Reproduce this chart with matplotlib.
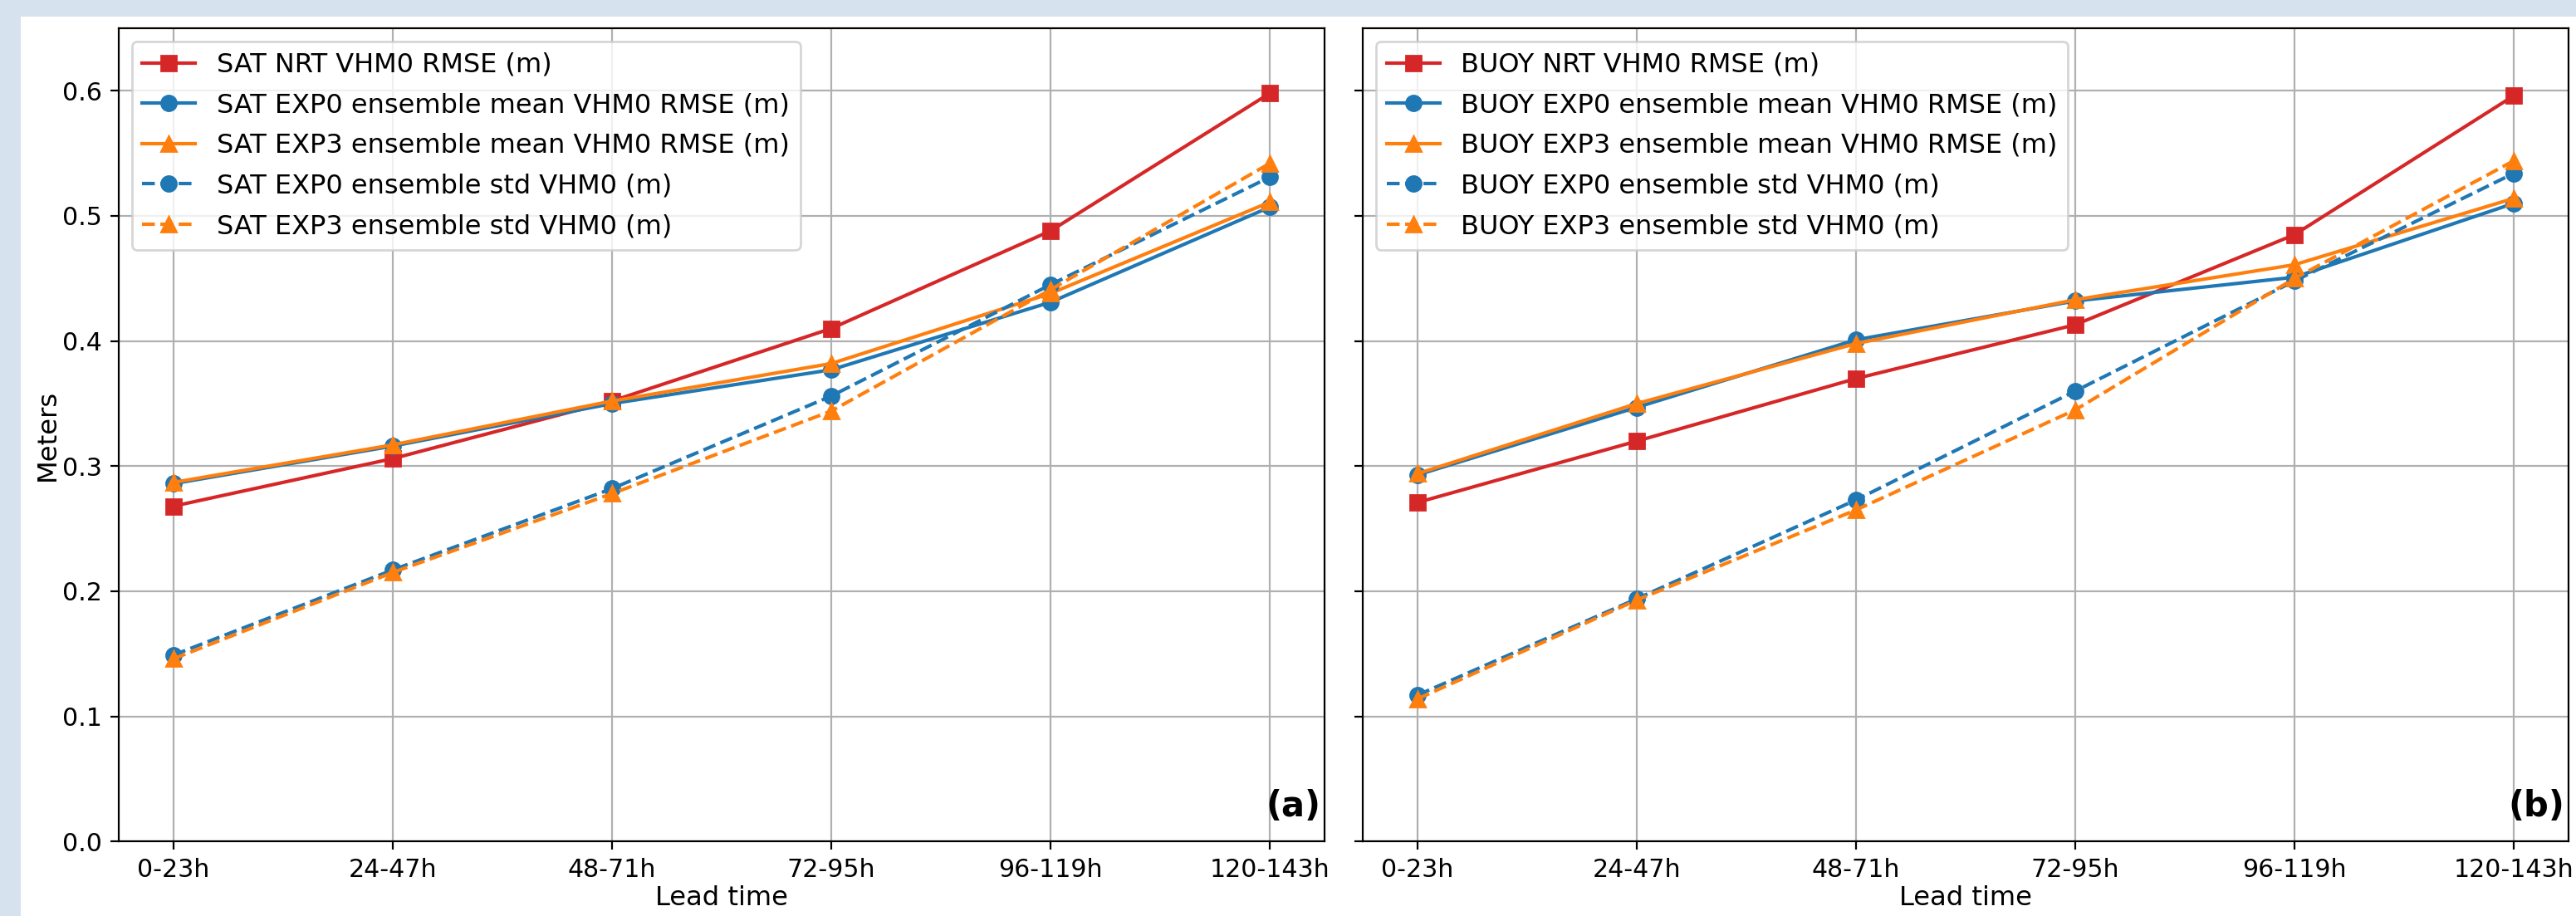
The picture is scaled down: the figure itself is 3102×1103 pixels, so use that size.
import numpy as np
import matplotlib
matplotlib.use('Agg')
import matplotlib.pyplot as plt
from matplotlib.patches import Rectangle

plt.rcParams['font.family'] = 'DejaVu Sans'
plt.rcParams['font.size'] = 10.8

lead_times = ['0-23h', '24-47h', '48-71h', '72-95h', '96-119h', '120-143h']

# (a) satellite
sat_nrt = [0.268, 0.306, 0.352, 0.410, 0.488, 0.598]
sat_exp0_mean = [0.286, 0.316, 0.350, 0.377, 0.431, 0.507]
sat_exp3_mean = [0.287, 0.317, 0.352, 0.382, 0.438, 0.511]
sat_exp0_std = [0.149, 0.217, 0.282, 0.356, 0.445, 0.531]
sat_exp3_std = [0.146, 0.215, 0.278, 0.344, 0.441, 0.542]

# (b) buoy
buoy_nrt = [0.271, 0.320, 0.370, 0.413, 0.485, 0.596]
buoy_exp0_mean = [0.293, 0.347, 0.401, 0.432, 0.451, 0.510]
buoy_exp3_mean = [0.294, 0.350, 0.398, 0.433, 0.461, 0.514]
buoy_exp0_std = [0.117, 0.194, 0.273, 0.360, 0.448, 0.534]
buoy_exp3_std = [0.114, 0.193, 0.265, 0.345, 0.450, 0.544]

fig = plt.figure(figsize=(15.51, 5.515), dpi=200, facecolor='#d6e3ee')
# white page area (light blue strip on left / top)
fig.patches.append(Rectangle((25 / 3102, 0), 1, 1 - 20 / 1103, transform=fig.transFigure,
                             facecolor='white', edgecolor='none', zorder=-1))

ax1 = fig.add_axes([0.0460, 0.0813, 0.4682, 0.8879])
ax2 = fig.add_axes([0.5290, 0.0813, 0.4681, 0.8879], sharey=ax1)

x = np.arange(len(lead_times))
ms = 6.5


def draw(ax, name, nrt, m0, m3, s0, s3, tag):
    ax.plot(x, nrt, color='#d62728', marker='s', ms=ms, lw=1.5, label=f'{name} NRT VHM0 RMSE (m)')
    ax.plot(x, m0, color='#1f77b4', marker='o', ms=ms, lw=1.5, label=f'{name} EXP0 ensemble mean VHM0 RMSE (m)')
    ax.plot(x, m3, color='#ff7f0e', marker='^', ms=ms, lw=1.5, label=f'{name} EXP3 ensemble mean VHM0 RMSE (m)')
    ax.plot(x, s0, color='#1f77b4', marker='o', ms=ms, lw=1.5, ls='--', label=f'{name} EXP0 ensemble std VHM0 (m)')
    ax.plot(x, s3, color='#ff7f0e', marker='^', ms=ms, lw=1.5, ls='--', label=f'{name} EXP3 ensemble std VHM0 (m)')
    ax.set_xticks(x)
    ax.set_xticklabels(lead_times)
    ax.set_xlabel('Lead time', fontsize=11.6, labelpad=1.5)
    ax.grid(True, color='#b0b0b0', lw=0.8)
    ax.legend(loc='upper left', fontsize=11.5, labelspacing=0.55)
    ax.text(0.997, 0.022, tag, transform=ax.transAxes, ha='right', va='bottom',
            fontsize=15, fontweight='bold')


draw(ax1, 'SAT', sat_nrt, sat_exp0_mean, sat_exp3_mean, sat_exp0_std, sat_exp3_std, '(a)')
draw(ax2, 'BUOY', buoy_nrt, buoy_exp0_mean, buoy_exp3_mean, buoy_exp0_std, buoy_exp3_std, '(b)')

ax1.set_ylim(0, 0.65)
ax1.set_yticks(np.arange(0, 0.61, 0.1))
ax1.set_ylabel('Meters', fontsize=11.6, labelpad=1)
ax2.tick_params(axis='y', labelleft=False)

plt.savefig('out.png', dpi=200, facecolor=fig.get_facecolor())
print("saved out.png")
